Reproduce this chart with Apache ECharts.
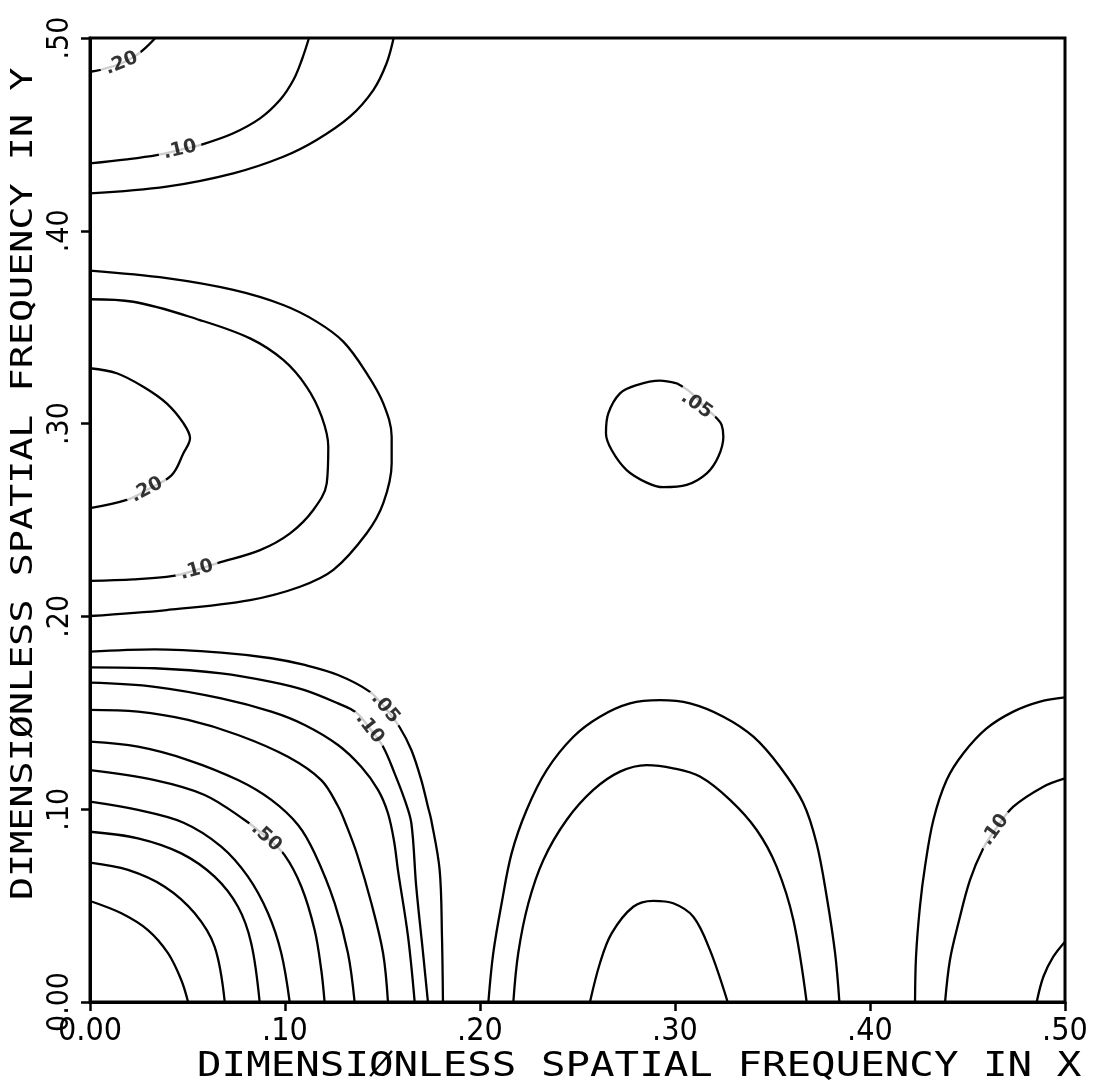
<!DOCTYPE html>
<html>
<head>
<meta charset="utf-8">
<script src="https://cdn.jsdelivr.net/npm/echarts@6/dist/echarts.min.js"></script>
<style>
  html, body { margin: 0; padding: 0; background: #fff; }
  #chart { width: 1103px; height: 1092px; }
</style>
</head>
<body>
<div id="chart"></div>
<script>
// Axis ticks and titles
const xTickLabels = ['0.00', '.10', '.20', '.30', '.40', '.50'];
const yTickLabels = ['0.00', '.10', '.20', '.30', '.40', '.50'];
const xTitle = 'DIMENSIØNLESS SPATIAL FREQUENCY IN X';
const yTitle = 'DIMENSIØNLESS SPATIAL FREQUENCY IN Y';

// Contours around the origin, outermost (.05) to innermost (.90)
const bl05 = [[0,0.1817],[0.0332,0.1829],[0.0673,0.1812],[0.0930,0.1783],[0.1101,0.1748],[0.1272,0.1696],[0.1434,0.1610],[0.1514,0.1525],[0.1588,0.1425],[0.1648,0.1307],[0.1699,0.1151],[0.1733,0.1013],[0.1750,0.0944],[0.1793,0.0685],[0.1805,0.0339],[0.1810,0]];
const bl10 = [[0,0.1736],[0.0332,0.1731],[0.0673,0.1705],[0.0930,0.1661],[0.1101,0.1618],[0.1272,0.1549],[0.1366,0.1501],[0.1434,0.1420],[0.1503,0.1324],[0.1562,0.1186],[0.1614,0.1048],[0.1648,0.0927],[0.1673,0.0598],[0.1708,0.0253],[0.1733,0]];
const bl20 = [[0,0.1656],[0.0332,0.1635],[0.0673,0.1575],[0.0930,0.1506],[0.1101,0.1437],[0.1272,0.1333],[0.1391,0.1220],[0.1477,0.1100],[0.1528,0.0979],[0.1560,0.0830],[0.1579,0.0685],[0.1631,0.0339],[0.1665,0]];
const bl30 = [[0,0.1515],[0.0246,0.1506],[0.0503,0.1463],[0.0759,0.1385],[0.1015,0.1272],[0.1186,0.1151],[0.1272,0.1015],[0.1314,0.0918],[0.1370,0.0765],[0.1443,0.0512],[0.1503,0.0253],[0.1528,0]];
const bl40 = [[0,0.1350],[0.0246,0.1324],[0.0503,0.1255],[0.0759,0.1151],[0.0930,0.1048],[0.1067,0.0918],[0.1152,0.0771],[0.1255,0.0512],[0.1323,0.0253],[0.1357,0]];
const bl50 = [[0,0.1203],[0.0332,0.1151],[0.0588,0.1074],[0.0793,0.0944],[0.0904,0.0855],[0.0998,0.0762],[0.1084,0.0598],[0.1152,0.0373],[0.1186,0.0166],[0.1203,0]];
const bl60 = [[0,0.1039],[0.0246,0.0996],[0.0480,0.0930],[0.0673,0.0806],[0.0810,0.0650],[0.0913,0.0460],[0.0981,0.0253],[0.1024,0]];
const bl70 = [[0,0.0883],[0.0246,0.0849],[0.0468,0.0771],[0.0639,0.0650],[0.0759,0.0494],[0.0827,0.0304],[0.0870,0]];
const bl80 = [[0,0.0723],[0.0195,0.0685],[0.0383,0.0598],[0.0537,0.0460],[0.0639,0.0287],[0.0691,0]];
const bl90 = [[0,0.0524],[0.0161,0.0460],[0.0297,0.0373],[0.0400,0.0253],[0.0468,0.0114],[0.0503,0]];

// Top-left corner
const tl20 = [[0,0.4825],[0.0051,0.4834],[0.0162,0.4869],[0.0239,0.4912],[0.0291,0.4955],[0.0335,0.5]];
const tl10 = [[0,0.4350],[0.0188,0.4371],[0.0342,0.4393],[0.0462,0.4420],[0.0581,0.4450],[0.0735,0.4506],[0.0872,0.4583],[0.0974,0.4678],[0.1043,0.4782],[0.1086,0.4886],[0.1123,0.5]];
const tl05 = [[0,0.4194],[0.0393,0.4229],[0.0735,0.4298],[0.0991,0.4384],[0.1162,0.4471],[0.1333,0.4592],[0.1453,0.4730],[0.1521,0.4869],[0.1557,0.5]];

// Lobe on the left edge around y = .30
const ml05 = [[0,0.3793],[0.0393,0.3754],[0.0735,0.3693],[0.0991,0.3615],[0.1162,0.3529],[0.1299,0.3425],[0.1419,0.3261],[0.1504,0.3105],[0.1547,0.2932],[0.1547,0.2794],[0.1504,0.2587],[0.1419,0.2431],[0.1248,0.2241],[0.1077,0.2154],[0.0821,0.2085],[0.0393,0.2033],[0,0.2002]];
const ml10 = [[0,0.3645],[0.0222,0.3632],[0.0564,0.3537],[0.0821,0.3442],[0.0991,0.3330],[0.1111,0.3191],[0.1188,0.3036],[0.1222,0.2880],[0.1214,0.2690],[0.1145,0.2552],[0.1026,0.2431],[0.0872,0.2344],[0.0650,0.2275],[0.0547,0.2241],[0.0427,0.2210],[0.0222,0.2192],[0,0.2184]];
const ml20 = [[0,0.3287],[0.0137,0.3261],[0.0273,0.3191],[0.0393,0.3105],[0.0479,0.3002],[0.0513,0.2924],[0.0479,0.2846],[0.0419,0.2733],[0.0291,0.2656],[0.0188,0.2604],[0,0.2561]];

// Closed ring near (.30, .30)
const ring05 = [[0.3009,0.3209],[0.2923,0.3223],[0.2804,0.3200],[0.2718,0.3157],[0.2658,0.3053],[0.2646,0.2950],[0.2675,0.2863],[0.2752,0.2759],[0.2855,0.2694],[0.2940,0.2670],[0.3060,0.2682],[0.3163,0.2742],[0.3222,0.2828],[0.3248,0.2932],[0.3239,0.2993],[0.3214,0.3028],[0.3159,0.3081],[0.3077,0.3164],[0.3009,0.3209]];

// Arches on the bottom edge around x = .30
const bm05 = [[0.2043,0],[0.2068,0.0253],[0.2111,0.0512],[0.2162,0.0771],[0.2239,0.0996],[0.2342,0.1203],[0.2479,0.1376],[0.2615,0.1480],[0.2769,0.1549],[0.2923,0.1566],[0.3077,0.1549],[0.3248,0.1480],[0.3402,0.1376],[0.3538,0.1220],[0.3658,0.1031],[0.3726,0.0823],[0.3778,0.0546],[0.3821,0.0253],[0.3843,0]];
const bm10 = [[0.2171,0],[0.2196,0.0253],[0.2248,0.0512],[0.2325,0.0737],[0.2444,0.0944],[0.2581,0.1100],[0.2718,0.1195],[0.2855,0.1229],[0.2991,0.1212],[0.3128,0.1169],[0.3282,0.1048],[0.3419,0.0892],[0.3521,0.0702],[0.3607,0.0425],[0.3675,0]];
const bm20 = [[0.2564,0],[0.2615,0.0201],[0.2675,0.0356],[0.2786,0.0494],[0.2889,0.0525],[0.2991,0.0512],[0.3094,0.0442],[0.3179,0.0270],[0.3270,0]];

// Bottom-right corner
const br05 = [[0.5,0.1580],[0.4872,0.1558],[0.4735,0.1506],[0.4598,0.1419],[0.4479,0.1290],[0.4393,0.1151],[0.4325,0.0944],[0.4282,0.0702],[0.4256,0.0494],[0.4236,0.0235],[0.4231,0]];
const br10 = [[0.5,0.1160],[0.4889,0.1117],[0.4735,0.1013],[0.4641,0.0892],[0.4581,0.0797],[0.4513,0.0633],[0.4453,0.0408],[0.4410,0.0218],[0.4385,0]];
const br20 = [[0.5,0.0313],[0.4940,0.0235],[0.4889,0.0131],[0.4855,0]];

// In-line contour labels
const labelText  = ['.20', '.10', '.20', '.10', '.05', '.10', '.50', '.05', '.10'];
const labelX     = [0.0162, 0.0462, 0.0291, 0.0547, 0.1514, 0.1434, 0.0904, 0.3111, 0.4641];
const labelY     = [0.4869, 0.4420, 0.2656, 0.2241, 0.1525, 0.1420, 0.0855, 0.3096, 0.0892];
const labelAngle = [22, 13, 28, 15, -50, -52, -42, -35, 54];

const contours = [bl05, bl10, bl20, bl30, bl40, bl50, bl60, bl70, bl80, bl90,
                  tl20, tl10, tl05, ml05, ml10, ml20, ring05,
                  bm05, bm10, bm20, br05, br10, br20];

const chart = echarts.init(document.getElementById('chart'), null, { renderer: 'canvas' });

const tickFont = "'Liberation Sans Narrow', 'DejaVu Sans Condensed', 'Liberation Sans', sans-serif";

const lineSeries = contours.map(pts => ({
  type: 'line',
  data: pts,
  showSymbol: false,
  symbol: 'none',
  smooth: 0.35,
  silent: true,
  z: 2,
  lineStyle: { color: '#000', width: 2.3 }
}));

const labelSeries = {
  type: 'scatter',
  silent: true,
  symbolSize: 1,
  z: 5,
  itemStyle: { color: 'rgba(0,0,0,0)' },
  data: labelText.map((t, i) => ({
    value: [labelX[i], labelY[i]],
    label: { formatter: t, rotate: labelAngle[i] }
  })),
  label: {
    show: true,
    position: 'inside',
    color: '#000',
    fontFamily: 'DejaVu Sans',
    fontWeight: 'bold',
    fontSize: 19,
    backgroundColor: '#fff',
    padding: [0, 5]
  }
};

chart.setOption({
  animation: false,
  backgroundColor: '#fff',
  grid: {
    left: 90, right: 38, top: 38, bottom: 90,
    show: true, borderColor: '#000', borderWidth: 3
  },
  xAxis: {
    type: 'value', min: 0, max: 0.5, interval: 0.1,
    axisLine: { show: true, lineStyle: { color: '#000', width: 3 } },
    axisTick: { show: true, inside: false, length: 9, lineStyle: { color: '#000', width: 2.5 } },
    splitLine: { show: false },
    axisLabel: {
      margin: 14, color: '#000', fontSize: 32, fontFamily: tickFont,
      formatter: (v) => xTickLabels[Math.round(v * 10)]
    }
  },
  yAxis: {
    type: 'value', min: 0, max: 0.5, interval: 0.1,
    axisLine: { show: true, lineStyle: { color: '#000', width: 3 } },
    axisTick: { show: true, inside: false, length: 9, lineStyle: { color: '#000', width: 2.5 } },
    splitLine: { show: false },
    axisLabel: {
      rotate: 90, margin: 15, color: '#000', fontSize: 30, fontFamily: tickFont,
      formatter: (v) => yTickLabels[Math.round(v * 10)]
    }
  },
  graphic: [
    {
      type: 'text', x: 197, y: 1067, scaleX: 1.2, silent: true,
      style: {
        text: xTitle, fill: '#000', fontFamily: 'DejaVu Sans Mono', fontSize: 34,
        align: 'left', verticalAlign: 'middle', textAlign: 'left', textVerticalAlign: 'middle'
      }
    },
    {
      type: 'text', x: 24, y: 900, rotation: Math.PI / 2, scaleX: 1.28, silent: true,
      style: {
        text: yTitle, fill: '#000', fontFamily: 'DejaVu Sans Mono', fontSize: 30,
        align: 'left', verticalAlign: 'middle', textAlign: 'left', textVerticalAlign: 'middle'
      }
    }
  ],
  series: [...lineSeries, labelSeries]
});
</script>
</body>
</html>
